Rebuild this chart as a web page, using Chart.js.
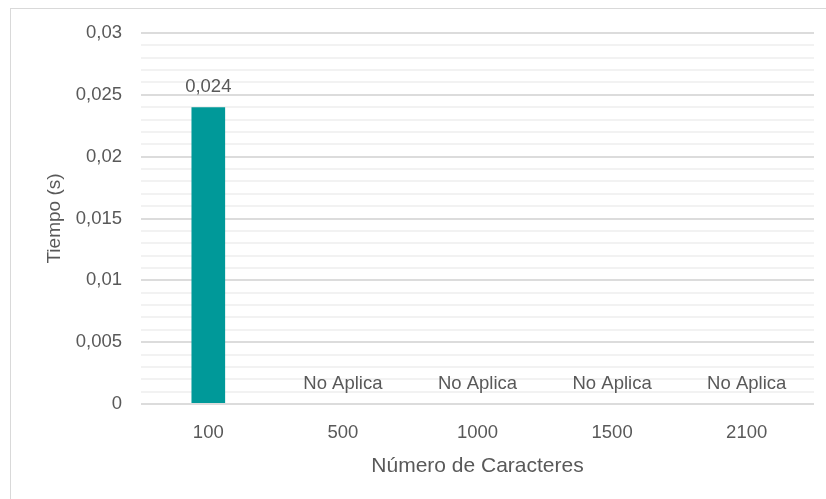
<!DOCTYPE html>
<html>
<head>
<meta charset="utf-8">
<script src="https://cdn.jsdelivr.net/npm/chart.js@4.4.1/dist/chart.umd.min.js"></script>
<style>
  html, body { margin: 0; padding: 0; background: #ffffff; overflow: hidden; }
  #wrap { position: relative; width: 826px; height: 499px; }
  #frame { position: absolute; left: 10px; top: 8px; width: 840px; height: 520px; border: 1px solid #d9d9d9; box-sizing: border-box; }
  canvas { position: absolute; left: 0; top: 0; }
</style>
</head>
<body>
<div id="wrap">
  <div id="frame"></div>
  <canvas id="c" width="826" height="499"></canvas>
</div>
<script>
// ---- data ----
const categories = ['100', '500', '1000', '1500', '2100'];
const tiempos = [0.024, null, null, null, null];
const missingLabel = 'No Aplica';
const yAxisTitle = 'Tiempo (s)';
const xAxisTitle = 'Número de Caracteres';
const yMin = 0, yMax = 0.03, yMajorStep = 0.005, yMinorStep = 0.001;

const TEXT = '#595959';
const FONT = 'Liberation Sans, Arial, sans-serif';

function fmt(v) {
  return parseFloat(v.toFixed(4)).toString().replace('.', ',');
}
function isMajor(v) {
  const r = Math.round(v / yMinorStep);
  return r % Math.round(yMajorStep / yMinorStep) === 0;
}

const labelPlugin = {
  id: 'valueLabels',
  afterDatasetsDraw(chart) {
    const ctx = chart.ctx;
    const meta = chart.getDatasetMeta(0);
    const ys = chart.scales.y;
    ctx.save();
    ctx.font = '18.5px ' + FONT;
    ctx.fillStyle = TEXT;
    ctx.textAlign = 'center';
    ctx.textBaseline = 'alphabetic';
    chart.data.datasets[0].data.forEach((v, i) => {
      const x = meta.data[i].x;
      const yTop = ys.getPixelForValue(v == null ? 0 : v);
      const txt = v == null ? missingLabel : fmt(v);
      ctx.fillText(txt, x, yTop - 15);
    });
    ctx.restore();
  }
};

new Chart(document.getElementById('c'), {
  type: 'bar',
  data: {
    labels: categories,
    datasets: [{
      data: tiempos,
      backgroundColor: '#009999',
      borderWidth: 0,
      barPercentage: 0.25,
      categoryPercentage: 1.0
    }]
  },
  options: {
    responsive: false,
    animation: false,
    devicePixelRatio: 1,
    layout: { padding: { left: 0, top: 33, right: 12, bottom: 0 } },
    plugins: { legend: { display: false }, tooltip: { enabled: false }, title: { display: false } },
    scales: {
      x: {
        grid: { display: false },
        border: { display: false },
        ticks: { color: TEXT, font: { family: FONT, size: 18.5 }, padding: 10 },
        title: { display: true, text: xAxisTitle, color: TEXT, font: { family: FONT, size: 21, lineHeight: 1 }, padding: { top: 0, bottom: 22 } },
        afterFit(scale) { scale.height = 499 - 404; }
      },
      y: {
        min: yMin, max: yMax,
        border: { display: false },
        grid: {
          drawTicks: false,
          color: c => (c.tick && isMajor(c.tick.value)) ? '#dcdcdc' : '#f2f2f2',
          lineWidth: 2
        },
        ticks: {
          stepSize: yMinorStep,
          maxTicksLimit: 100,
          autoSkip: false,
          padding: 19,
          color: TEXT,
          font: { family: FONT, size: 18.5 },
          callback: v => isMajor(v) ? fmt(v) : ''
        },
        title: { display: true, text: yAxisTitle, color: TEXT, font: { family: FONT, size: 19, lineHeight: 1 }, padding: { top: 45, bottom: 0 } },
        afterFit(scale) { scale.width = 141; }
      }
    }
  },
  plugins: [labelPlugin]
});
</script>
</body>
</html>
